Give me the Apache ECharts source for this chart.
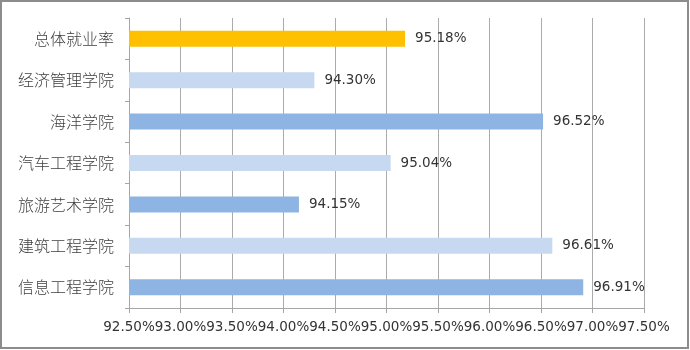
<!DOCTYPE html>
<html>
<head>
<meta charset="utf-8">
<script src="https://cdn.jsdelivr.net/npm/echarts@6/dist/echarts.min.js"></script>
<style>
html,body{margin:0;padding:0;background:#fff;}
#c{width:690px;height:350px;}
</style>
</head>
<body>
<div id="c"></div>
<script>
const categories = ['总体就业率','经济管理学院','海洋学院','汽车工程学院','旅游艺术学院','建筑工程学院','信息工程学院'];
const values = [95.18, 94.30, 96.52, 95.04, 94.15, 96.61, 96.91];
const barColors = ['#FFC000','#C6D9F1','#8DB4E2','#C6D9F1','#8DB4E2','#C6D9F1','#8DB4E2'];
const axisMin = 92.5, axisMax = 97.5, axisStep = 0.5;

const chart = echarts.init(document.getElementById('c'), null, {renderer:'canvas'});
chart.setOption({
  animation: false,
  backgroundColor: '#fff',
  textStyle: {fontFamily: '"Noto Sans CJK SC", "DejaVu Sans", sans-serif'},
  grid: {left: 129, right: 46, top: 18, bottom: 42, outerBoundsMode: 'none', containLabel: false},
  xAxis: {
    type: 'value', min: axisMin, max: axisMax, interval: axisStep,
    axisLine: {show: true, lineStyle: {color: '#A6A6A6', width: 1}},
    axisTick: {show: true, length: 5, lineStyle: {color: '#A6A6A6'}},
    splitLine: {show: true, lineStyle: {color: '#ABABAB', width: 1}},
    axisLabel: {
      margin: 12, color: '#333', fontSize: 13.5, fontFamily: '"DejaVu Sans", sans-serif',
      formatter: v => v.toFixed(2) + '%'
    }
  },
  yAxis: {
    type: 'category', data: categories, inverse: true,
    axisLine: {show: true, lineStyle: {color: '#A6A6A6', width: 1}},
    axisTick: {show: true, length: 4, lineStyle: {color: '#A6A6A6'}},
    splitLine: {show: false},
    axisLabel: {margin: 15, color: '#404040', fontSize: 16, fontWeight: 300, fontFamily: '"Noto Sans CJK SC", sans-serif'}
  },
  series: [{
    type: 'bar',
    data: values.map((v, i) => ({value: v, itemStyle: {color: barColors[i]}})),
    barWidth: 16,
    label: {
      show: true, position: 'right', distance: 10, color: '#333', fontSize: 13.5,
      fontFamily: '"DejaVu Sans", sans-serif',
      formatter: p => p.value.toFixed(2) + '%'
    }
  }],
  graphic: [{
    type: 'rect', shape: {x: 1, y: 1, width: 687, height: 347},
    style: {fill: 'none', stroke: '#8C8C8C', lineWidth: 2}, silent: true
  }]
});
</script>
</body>
</html>
